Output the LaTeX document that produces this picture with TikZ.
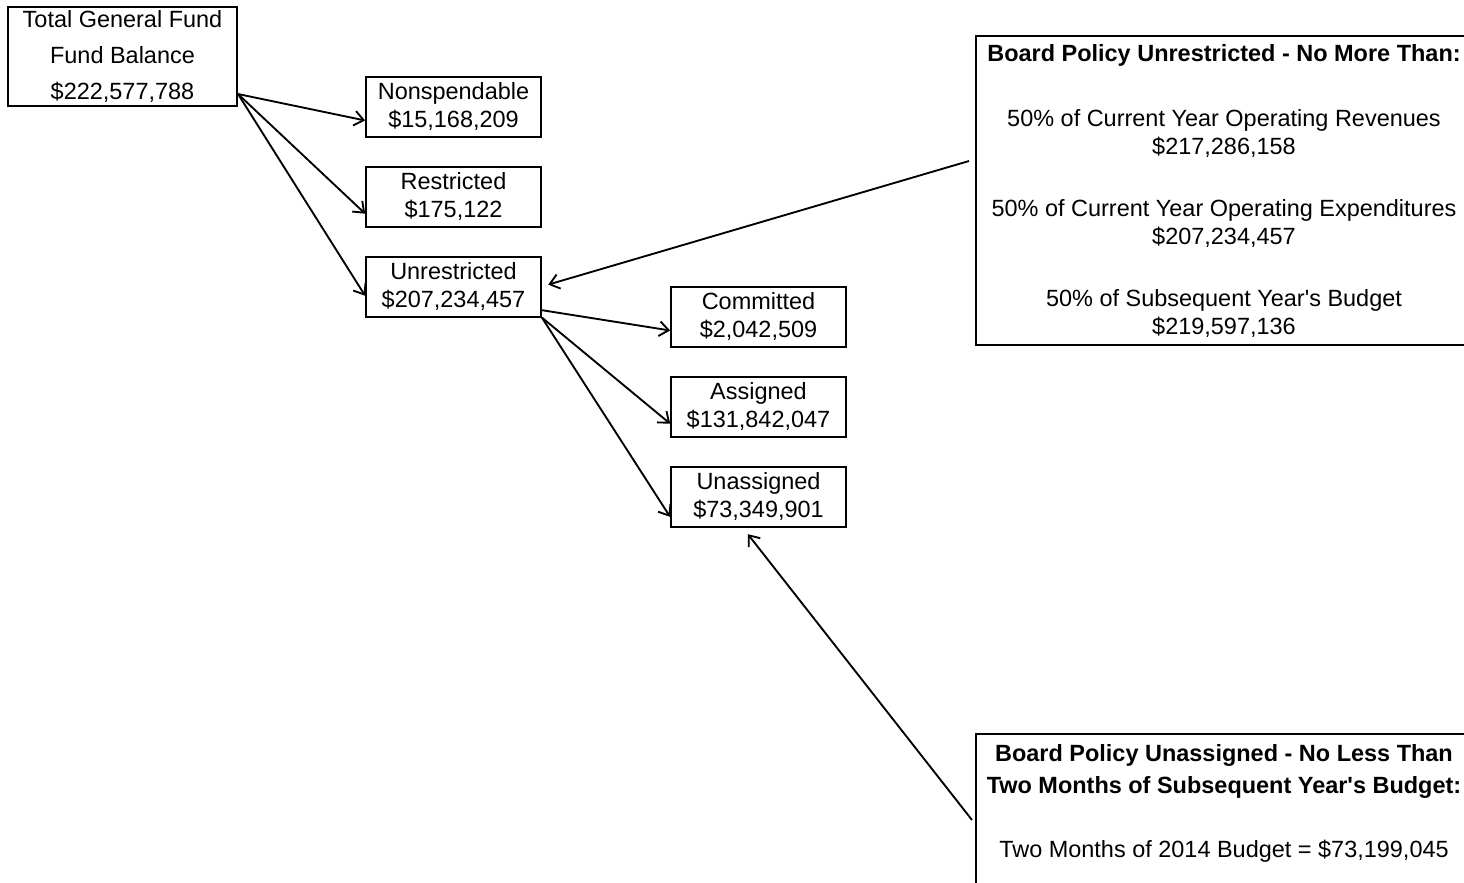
\documentclass[tikz,border=0pt]{standalone}
\usepackage{fontspec}
\setmainfont{Liberation Sans}[Ligatures=TeXOff]
\usetikzlibrary{positioning,arrows.meta}

\begin{document}
\begin{tikzpicture}[x=0.75pt,y=-0.75pt,node distance=67.5pt,
  font=\fontsize{17.6}{21}\selectfont,
  fund/.style={draw,line width=1.5pt,align=center,minimum width=131pt,minimum height=45pt,inner sep=0pt},
  policy/.style={draw,line width=1.5pt,align=center,minimum width=372pt},
  flow/.style={->,line width=1.4pt},
  >={Straight Barb[length=7pt,width=11pt]}]
  \useasboundingbox (0,0) rectangle (1464,882);
  \clip (0,0) rectangle (1464,882);

  \node[fund,minimum width=171.75pt,minimum height=74.25pt] (total) at (122.5,56.5)
    {Total General Fund\\[6pt]Fund Balance\\[6pt]\$222,577,788};
  \node[fund] (nonsp) at (453.5,106.5) {Nonspendable\\\$15,168,209};
  \node[fund] (restr) [below of=nonsp] {Restricted\\\$175,122};
  \node[fund] (unres) [below of=restr] {Unrestricted\\\$207,234,457};
  \node[fund] (commit) at (758.5,316.5) {Committed\\\$2,042,509};
  \node[fund] (assig) [below of=commit] {Assigned\\\$131,842,047};
  \node[fund] (unass) [below of=assig] {Unassigned\\\$73,349,901};

  \node[policy,minimum height=231.75pt] (unrpol) at (1224,190.5)
    {\textbf{Board Policy Unrestricted - No More Than:}\\[27.75pt]
     50\% of Current Year Operating Revenues\\\$217,286,158\\[25.5pt]
     50\% of Current Year Operating Expenditures\\\$207,234,457\\[25.5pt]
     50\% of Subsequent Year's Budget\\\$219,597,136};
  \node[policy,anchor=north,inner ysep=7.5pt] (unapol) at (1224,733)
    {\textbf{Board Policy Unassigned - No Less Than}\\[3pt]
     \textbf{Two Months of Subsequent Year's Budget:}\\[27pt]
     Two Months of 2014 Budget = \$73,199,045\\[40pt]\mbox{}};

  % fund balance split
  \draw[flow] (total.-18) -- (nonsp.189);
  \draw[flow] (total.-18) -- (restr.191);
  \draw[flow] (total.-18) -- (unres.186);
  \draw[flow] (unres.-15) -- (commit.189);
  \draw[flow] (unres.south east) -- (assig.191);
  \draw[flow] (unres.south east) -- (unass.193);

  % board policies
  \draw[flow,shorten >=5pt] ([xshift=-4.5pt,yshift=-94.5pt]unrpol.north west) -- (unres.east);
  \draw[flow] ([xshift=-2.25pt,yshift=-65.25pt]unapol.north west) -- ([xshift=-8pt,yshift=-5pt]unass.south);
\end{tikzpicture}
\end{document}
